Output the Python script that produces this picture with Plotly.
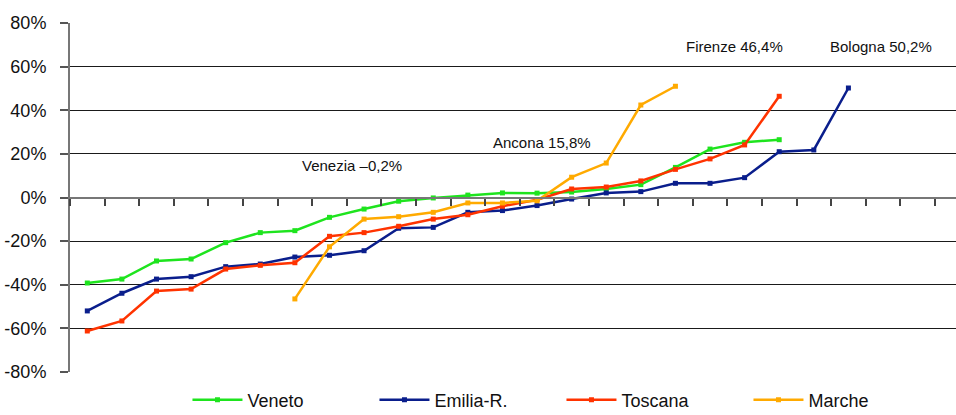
import plotly.graph_objects as go

# Percentage change by city, cities ranked within each region
veneto = [-39.2, -37.4, -29.1, -28.2, -20.7, -16.1, -15.2, -9.1, -5.3, -1.7,
          -0.2, 1.1, 2.1, 2.0, 2.5, 3.9, 5.9, 13.8, 22.2, 25.3, 26.5]
emilia = [-52.0, -43.9, -37.4, -36.3, -31.7, -30.5, -27.3, -26.5, -24.4, -14.1,
          -13.7, -6.8, -6.0, -3.7, -0.7, 2.1, 2.7, 6.5, 6.5, 9.1, 21.0, 21.8, 50.2]
toscana = [-61.2, -56.6, -42.9, -42.0, -32.8, -31.1, -29.9, -17.8, -16.1, -13.2,
           -9.9, -7.9, -4.0, -1.0, 3.9, 4.8, 7.6, 12.9, 17.7, 24.1, 46.4]
marche = [None, None, None, None, None, None, -46.5, -22.6, -9.9, -8.8,
          -6.8, -2.5, -2.5, -1.5, 9.3, 15.8, 42.4, 51.0]

series_names = ["Veneto", "Emilia-R.", "Toscana", "Marche"]
series_colors = ["#1EE41E", "#0A1E8C", "#FF3300", "#FFAA00"]

y_tick_vals = [-80, -60, -40, -20, 0, 20, 40, 60, 80]
y_tick_text = ["-80%", "-60%", "-40%", "-20%", "0%", "20%", "40%", "60%", "80%"]

FONT = "Liberation Sans, Arial, sans-serif"


def pct_label(v):
    return f"{v:.1f}%".replace(".", ",").replace("-", "\u2013")


fig = go.Figure()
for name, color, vals in zip(series_names, series_colors,
                             [veneto, emilia, toscana, marche]):
    fig.add_trace(go.Scatter(
        x=list(range(len(vals))), y=vals, name=name, mode="lines+markers",
        line=dict(color=color, width=2.5),
        marker=dict(symbol="square", size=5, color=color),
        connectgaps=False,
    ))

# Labelled cities: (text, series, rank, label position)
labels = [
    ("Venezia", veneto, 10, 7.66, 14.6),
    ("Ancona", marche, 15, 13.15, 25.3),
    ("Firenze", toscana, 20, 18.71, 69.1),
    ("Bologna", emilia, 22, 22.93, 69.1),
]
for city, vals, idx, lx, ly in labels:
    fig.add_annotation(x=lx, y=ly, xref="x", yref="y", showarrow=False,
                       text=f"{city} {pct_label(vals[idx])}",
                       font=dict(family=FONT, size=15, color="#111"))

fig.update_layout(
    width=956, height=415,
    margin=dict(l=70, r=0, t=23, b=43, autoexpand=False),
    paper_bgcolor="white", plot_bgcolor="white",
    font=dict(family=FONT, color="#111"),
    showlegend=True,
    legend=dict(orientation="h", xref="container", yref="container",
                x=0.1961, xanchor="left", y=0.036, yanchor="middle",
                font=dict(family=FONT, size=18),
                itemwidth=50, entrywidth=122, bgcolor="rgba(0,0,0,0)"),
    xaxis=dict(
        range=[-0.5, 25.11], anchor="free", position=0.5,
        showline=True, linecolor="#777", linewidth=2,
        ticks="outside", tickvals=[k - 0.5 for k in range(27)],
        ticklen=7, tickwidth=1.5, tickcolor="#444",
        showticklabels=False, showgrid=False, zeroline=False,
    ),
    yaxis=dict(
        range=[-80, 80], tickvals=y_tick_vals, ticktext=y_tick_text,
        showline=True, linecolor="#777", linewidth=2,
        ticks="outside", ticklen=8, tickwidth=1.5, tickcolor="#555",
        ticklabelstandoff=10,
        showgrid=True, gridcolor="#1a1a1a", gridwidth=1, zeroline=False,
        tickfont=dict(family=FONT, size=18, color="#111"),
    ),
)

fig.write_html("out.html")
